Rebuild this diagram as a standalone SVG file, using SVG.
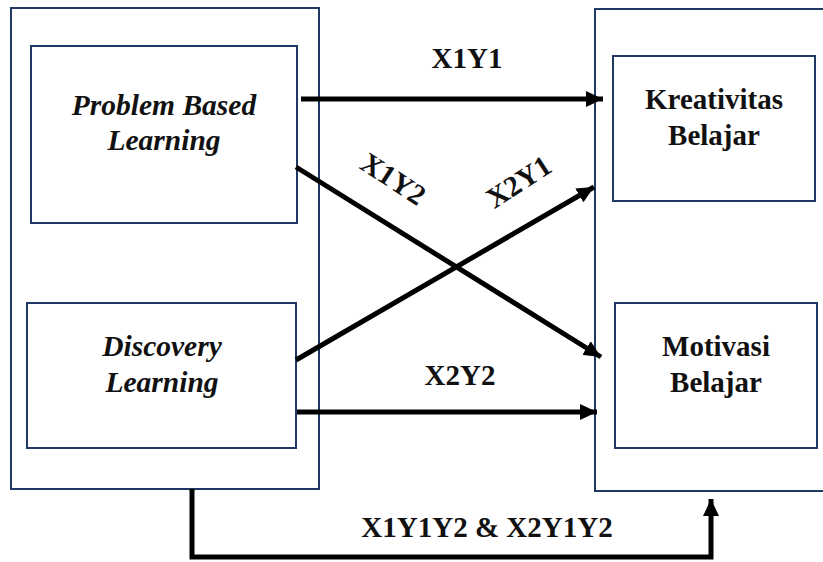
<svg xmlns="http://www.w3.org/2000/svg" width="823" height="562" viewBox="0 0 823 562">
<style>
.box{fill:#fff;stroke:#1f3864;stroke-width:2}
.inner{fill:none;stroke:#1f3864;stroke-width:2}
.t{font-family:'Liberation Serif','Times New Roman',serif;font-weight:700;font-size:29px;fill:#111;text-anchor:middle}
.i{font-style:italic;font-size:29.5px}
.c{fill:none;stroke:#000;stroke-width:5}
</style>
<defs>
<marker id="ah" markerUnits="userSpaceOnUse" markerWidth="18" markerHeight="16" refX="17" refY="8" orient="auto">
<path d="M0,0 L17,8 L0,16 z" fill="#000"/>
</marker>
</defs>
<g id="left-group"><rect class="box" x="11" y="8" width="308" height="481"/></g>
<g id="right-group"><rect class="box" x="595" y="9" width="230" height="482"/></g>
<g id="pbl"><rect class="inner" x="31" y="46" width="266" height="177"/>
<text class="t i" x="164" y="115">Problem Based</text>
<text class="t i" x="164" y="150">Learning</text></g>
<g id="dl"><rect class="inner" x="27" y="303" width="269" height="145"/>
<text class="t i" x="162" y="356">Discovery</text>
<text class="t i" x="162" y="392">Learning</text></g>
<g id="kb"><rect class="inner" x="613" y="56" width="202" height="145"/>
<text class="t" x="714" y="109">Kreativitas</text>
<text class="t" x="714" y="145">Belajar</text></g>
<g id="mb"><rect class="inner" x="615" y="303" width="202" height="145"/>
<text class="t" x="716" y="356">Motivasi</text>
<text class="t" x="716" y="392">Belajar</text></g>
<g id="connectors">
<line class="c" x1="301" y1="99" x2="603" y2="99" marker-end="url(#ah)"/>
<line class="c" x1="296" y1="167" x2="601" y2="357" marker-end="url(#ah)"/>
<line class="c" x1="296" y1="360" x2="594" y2="187" marker-end="url(#ah)"/>
<line class="c" x1="297" y1="412" x2="597" y2="412" marker-end="url(#ah)"/>
<path class="c" d="M192,489 V557 H711 V499" marker-end="url(#ah)"/>
<text class="t" x="467" y="68">X1Y1</text>
<text class="t" x="0" y="0" transform="translate(388,187) rotate(33)">X1Y2</text>
<text class="t" x="0" y="0" transform="translate(524,190) rotate(-33)">X2Y1</text>
<text class="t" x="460" y="385">X2Y2</text>
<text class="t" x="487" y="537">X1Y1Y2 &amp; X2Y1Y2</text>
</g>
</svg>
